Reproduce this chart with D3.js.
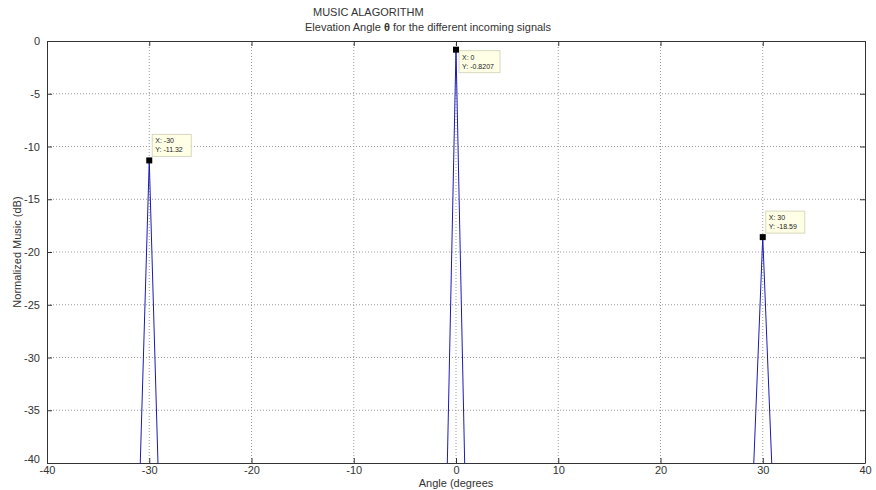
<!DOCTYPE html>
<html>
<head>
<meta charset="utf-8">
<script src="https://cdnjs.cloudflare.com/ajax/libs/d3/7.8.5/d3.min.js"></script>
<style>
  body { margin: 0; background: #fff; }
  text { font-family: "Liberation Sans", Arial, sans-serif; }
</style>
</head>
<body>
<script>
// MUSIC pseudo-spectrum, sampled at 1 degree (values below -40 are cut by the axes)
const angles = [-40, -36, -33, -32, -31, -30, -29, -28, -27, -24, -18, -12, -6, -3, -2, -1, 0, 1, 2, 3, 6, 12, 18, 24, 27, 28, 29, 30, 31, 32, 33, 36, 40];
const music  = [-58, -56, -52, -49, -44, -11.32, -45, -50, -53, -57, -60, -61, -58, -54, -51, -47, -0.8207, -47, -51, -54, -58, -61, -60, -57, -53, -50, -43, -18.59, -43, -49, -52, -56, -58];

const peakX = [-30, 0, 30];
const peakY = [-11.32, -0.8207, -18.59];
const peakLabelY = ["-11.32", "-0.8207", "-18.59"];
const peakBelow = [false, true, false];

const xTicks = [-40, -30, -20, -10, 0, 10, 20, 30, 40];
const yTicks = [0, -5, -10, -15, -20, -25, -30, -35, -40];

const W = 876, H = 490;
const m = { left: 47, right: 11, top: 41, bottom: 27 };
const iw = W - m.left - m.right, ih = H - m.top - m.bottom;

const svg = d3.select("body").append("svg").attr("width", W).attr("height", H);
const g = svg.append("g").attr("transform", `translate(${m.left},${m.top})`);

const x = d3.scaleLinear().domain([-40, 40]).range([0, iw]);
const y = d3.scaleLinear().domain([-40, 0]).range([ih, 0]);
const fmt = d => String(d);

// grid
g.selectAll(".vg").data(xTicks.slice(1, -1)).enter().append("line")
  .attr("x1", d => x(d)).attr("x2", d => x(d)).attr("y1", 0).attr("y2", ih)
  .attr("stroke", "#9a9a9a").attr("stroke-width", 1).attr("stroke-dasharray", "1,2");
g.selectAll(".hg").data(yTicks.slice(1, -1)).enter().append("line")
  .attr("y1", d => y(d)).attr("y2", d => y(d)).attr("x1", 0).attr("x2", iw)
  .attr("stroke", "#9a9a9a").attr("stroke-width", 1).attr("stroke-dasharray", "1,2");

// axes
const xAxis = g.append("g").attr("transform", `translate(0,${ih})`)
  .call(d3.axisBottom(x).tickValues(xTicks).tickSizeInner(-5).tickSizeOuter(0).tickPadding(3).tickFormat(fmt));
const yAxis = g.append("g")
  .call(d3.axisLeft(y).tickValues(yTicks).tickSizeInner(-5).tickSizeOuter(0).tickPadding(9).tickFormat(fmt));
g.append("g").call(d3.axisTop(x).tickValues(xTicks).tickSizeInner(-5).tickSizeOuter(0).tickFormat(""));
g.append("g").attr("transform", `translate(${iw},0)`)
  .call(d3.axisRight(y).tickValues(yTicks).tickSizeInner(-5).tickSizeOuter(0).tickFormat(""));
g.selectAll(".domain").attr("stroke", "#333");
g.selectAll(".tick line").attr("stroke", "#333");
g.selectAll(".tick text").attr("font-size", 11).attr("fill", "#333")
  .attr("font-family", "'Liberation Sans', Arial, sans-serif");
yAxis.selectAll(".tick text").attr("dx", "2px");
yAxis.selectAll(".tick").filter(d => d === -40).select("text").attr("dy", "-0.05em");

// curve
svg.append("clipPath").attr("id", "clip").append("rect")
  .attr("width", iw).attr("height", ih);
const line = d3.line().x((d, i) => x(angles[i])).y(d => y(d));
g.append("path").datum(music)
  .attr("clip-path", "url(#clip)")
  .attr("fill", "none").attr("stroke", "#1a1ab8").attr("stroke-width", 1)
  .attr("d", line);

// data tips
peakX.forEach((px, i) => {
  const cx = x(px), cy = y(peakY[i]);
  const bx = cx + 3, by = peakBelow[i] ? cy + 1 : cy - 26;
  const bw = peakBelow[i] ? 41 : 39;
  g.append("rect").attr("x", bx).attr("y", by).attr("width", bw).attr("height", 22)
    .attr("fill", "#ffffe6").attr("stroke", "#d8d8c0").attr("stroke-width", 1);
  g.append("text").attr("x", bx + 3).attr("y", by + 9).attr("font-size", 7).attr("fill", "#222")
    .text("X: " + px);
  g.append("text").attr("x", bx + 3).attr("y", by + 18).attr("font-size", 7).attr("fill", "#222")
    .text("Y: " + peakLabelY[i]);
  g.append("rect").attr("x", cx - 3).attr("y", cy - 3).attr("width", 6).attr("height", 6)
    .attr("fill", "#000");
});

// titles and labels
svg.append("text").attr("x", 313).attr("y", 16).attr("font-size", 11).attr("fill", "#333")
  .text("MUSIC ALAGORITHM");
const t2 = svg.append("text").attr("x", 305).attr("y", 31).attr("font-size", 11).attr("fill", "#333");
t2.append("tspan").text("Elevation Angle ");
t2.append("tspan").attr("font-weight", "bold").text("θ");
t2.append("tspan").text(" for the different incoming signals");

svg.append("text").attr("x", m.left + iw / 2).attr("y", 487).attr("text-anchor", "middle")
  .attr("font-size", 11).attr("fill", "#333").text("Angle (degrees");
svg.append("text").attr("transform", `translate(21,${m.top + ih / 2}) rotate(-90)`)
  .attr("text-anchor", "middle").attr("font-size", 11).attr("fill", "#333")
  .text("Normalized Music (dB)");
</script>
</body>
</html>
